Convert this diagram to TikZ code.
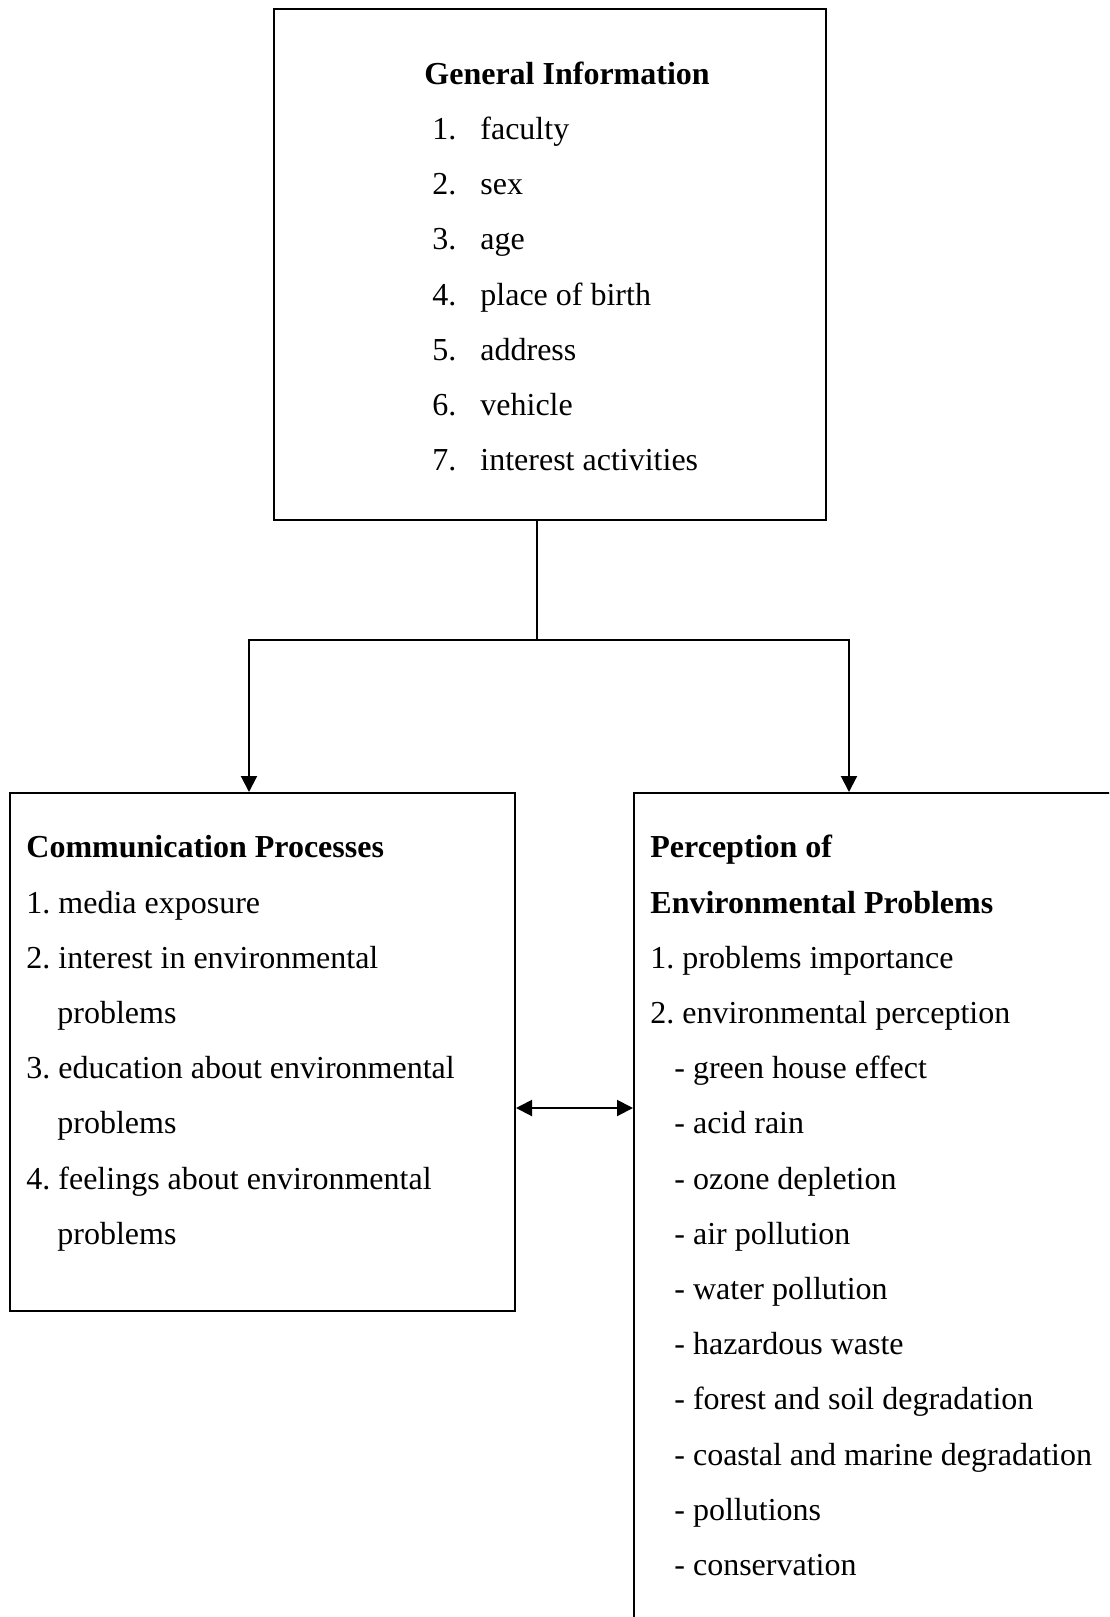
\documentclass[tikz,border=0pt]{standalone}
\usepackage{fontspec}
\setmainfont{Liberation Serif}
\usetikzlibrary{arrows.meta}
\tikzstyle{box}=[draw,line width=1pt,rectangle,inner sep=0pt,anchor=north west]
% base west of a multi-line node is the baseline of its last line
\tikzstyle{txt}=[anchor=base west,align=left,inner sep=0pt,font=\fontsize{16}{27.6}\selectfont\frenchspacing]
\tikzstyle{tip}=[-{Triangle[length=8pt,width=8pt]},line width=1pt]
\tikzstyle{tips}=[{Triangle[length=8pt,width=8pt]}-{Triangle[length=8pt,width=8pt]},line width=1pt]
\newcommand{\num}[1]{\hspace*{4pt}\makebox[24pt][l]{#1}}

\begin{document}
\begin{tikzpicture}[x=1pt,y=1pt]
	\useasboundingbox (0,0) rectangle (554.5,-808.5);
	\clip (0,0) rectangle (554.5,-808.5);

	% boxes
	\node(gen)[box,minimum width=276pt,minimum height=255.5pt] at (136.5,-4) {};
	\node(comm)[box,minimum width=252.5pt,minimum height=259pt] at (4.5,-396) {};
	\node(perc)[box,minimum width=270pt,minimum height=440pt] at (316.5,-396) {};

	% texts
	\node(gentxt)[txt] at ([shift={(75.5,-231.3)}]gen.north west)
		{\textbf{General Information}\\
		\num{1.}faculty\\
		\num{2.}sex\\
		\num{3.}age\\
		\num{4.}place of birth\\
		\num{5.}address\\
		\num{6.}vehicle\\
		\num{7.}interest activities};
	\node(commtxt)[txt] at ([shift={(8.5,-226.1)}]comm.north west)
		{\textbf{Communication Processes}\\
		1. media exposure\\
		2. interest in environmental\\
		\hspace*{15.5pt}problems\\
		3. education about environmental\\
		\hspace*{15.5pt}problems\\
		4. feelings about environmental\\
		\hspace*{15.5pt}problems};
	\node(perctxt)[txt] at ([shift={(8.5,-391.7)}]perc.north west)
		{\textbf{Perception of}\\
		\textbf{Environmental Problems}\\
		1. problems importance\\
		2. environmental perception\\
		\hspace*{12pt}- green house effect\\
		\hspace*{12pt}- acid rain\\
		\hspace*{12pt}- ozone depletion\\
		\hspace*{12pt}- air pollution\\
		\hspace*{12pt}- water pollution\\
		\hspace*{12pt}- hazardous waste\\
		\hspace*{12pt}- forest and soil degradation\\
		\hspace*{12pt}- coastal and marine degradation\\
		\hspace*{12pt}- pollutions\\
		\hspace*{12pt}- conservation};

	% connectors
	\coordinate (jn) at (268.5,-320);
	\coordinate (cl) at (124.5,-320);
	\coordinate (cr) at (424.5,-320);
	\coordinate (mid) at (0,-554);
	\draw[line width=1pt] (jn |- gen.south) -- (jn);
	\draw[tip] (jn) -- (cl) -- (cl |- comm.north);
	\draw[tip] (jn) -- (cr) -- (cr |- perc.north);
	\draw[tips] (comm.east |- mid) -- (perc.west |- mid);
\end{tikzpicture}
\end{document}
